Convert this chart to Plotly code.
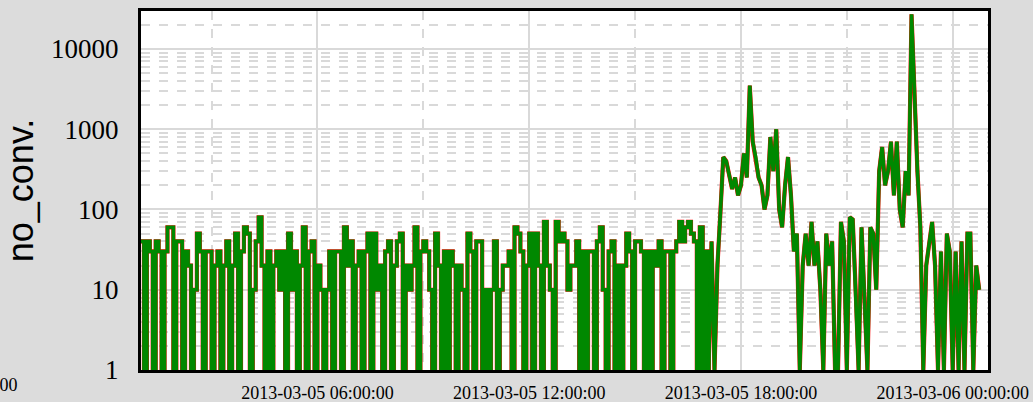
import pandas as pd
import plotly.graph_objects as go

# values (5-minute samples starting 2013-03-05 01:00)
seg1 = [40, 1, 40, 30, 1, 40, 30, 1, 30, 60, 60, 1, 40, 40, 1, 30, 20, 1, 10, 50,
        30, 1, 30, 30, 1, 20, 30, 1, 20, 40, 1, 20, 50, 1, 30, 60, 50, 1, 10, 40,
        80, 20, 1, 30, 1, 20, 30, 10, 30]
seg2 = [1, 50, 10, 30, 1, 20, 60, 1, 30, 40, 1, 20, 10, 1, 10, 30, 1, 30, 30, 1,
        60, 20, 40, 1, 20, 30, 1, 30, 50, 1, 50, 10, 20, 1, 30, 40, 1, 20, 40, 50,
        1, 20, 10, 20, 60, 1, 30, 40]
seg3 = [30, 10, 1, 50, 20, 1, 30, 1, 30, 20, 1, 20, 10, 1, 50, 30, 1, 40, 40, 1,
        10, 1, 10, 40, 1, 10, 20, 20, 30, 1, 60, 50, 30, 1, 20, 50, 1, 50, 20, 1,
        70, 20, 10, 1, 70, 40, 50, 40]
seg4 = [10, 20, 20, 40, 1, 30, 1, 30, 30, 1, 40, 60, 10, 1, 30, 40, 1, 20, 1, 20,
        50, 30, 1, 40, 40, 30, 1, 30, 1, 30, 20, 40, 1, 30, 30, 1, 30, 40, 70, 40,
        60, 70, 50, 40, 1, 60, 1, 30]
seg5 = [1, 40, 1, 20, 90, 450, 400, 250, 180, 250, 150, 200, 500, 250, 3500, 700,
        450, 250, 200, 100, 150, 800, 300, 1000, 100, 60, 200, 450, 150, 30, 50, 1,
        20, 50, 20, 70, 20, 40, 10, 1, 50, 20, 40, 1, 1, 70, 40]
seg6 = [1, 80, 75, 10, 1, 60, 10, 1, 60, 50, 10, 300, 600, 200, 300, 700, 150, 700,
        100, 60, 300, 150, 27000, 2000, 300, 60, 1, 20, 40, 70, 20, 1, 30, 1, 50, 30,
        1, 30, 1, 40, 1, 50, 50, 1, 20, 10]

quiet = seg1 + seg2 + seg3 + seg4          # blocky, step-like part
active = seg5 + seg6                       # smoother burst part
values = quiet + active
times = pd.date_range("2013-03-05 01:00:00", periods=len(values), freq="5min")
n_quiet = len(quiet)

x_range = ["2013-03-05 01:00:00", "2013-03-06 01:00:00"]
x_tickvals = ["2013-03-05 06:00:00", "2013-03-05 12:00:00",
              "2013-03-05 18:00:00", "2013-03-06 00:00:00"]
y_tickvals = [1, 10, 100, 1000, 10000]
y_ticktext = ["1", "10", "100", "1000", "10000"]
y_minor = [d * 10 ** e for e in range(0, 5) for d in range(2, 10)]

fig = go.Figure()
for color, width in (("#ff0000", 4.2), ("#008800", 3.6)):
    fig.add_trace(go.Scatter(x=times[:n_quiet + 1], y=values[:n_quiet + 1],
                             mode="lines", line_shape="hv",
                             line=dict(color=color, width=width)))
    fig.add_trace(go.Scatter(x=times[n_quiet:], y=values[n_quiet:],
                             mode="lines", line_shape="linear",
                             line=dict(color=color, width=width)))

grid = "#d9d9d9"
fig.update_layout(
    width=1033, height=402,
    margin=dict(l=141, r=45, t=11, b=32),
    paper_bgcolor="#dcdcdc", plot_bgcolor="white",
    showlegend=False,
    font=dict(family="Liberation Serif", color="black"),
    xaxis=dict(type="date", range=x_range, tickvals=x_tickvals, automargin=False,
               tickformat="%Y-%m-%d %H:%M:%S",
               tickfont=dict(family="Liberation Serif", size=18),
               ticks="outside", ticklen=4, tickcolor="rgba(0,0,0,0)",
               showgrid=True, gridcolor=grid, gridwidth=2,
               minor=dict(dtick=3 * 3600 * 1000, tick0="2013-03-05 00:00:00",
                          showgrid=True, gridcolor=grid, gridwidth=2, griddash="dash"),
               showline=True, linecolor="black", linewidth=3, mirror=True,
               zeroline=False),
    yaxis=dict(type="log", range=[0, 4.473], tickvals=y_tickvals, ticktext=y_ticktext,
               automargin=False,
               tickfont=dict(family="Liberation Serif", size=27),
               ticks="outside", ticklen=14, tickcolor="rgba(0,0,0,0)",
               showgrid=True, gridcolor=grid, gridwidth=2,
               minor=dict(tickvals=y_minor, showgrid=True, gridcolor=grid,
                          gridwidth=2, griddash="dash"),
               showline=True, linecolor="black", linewidth=3, mirror=True,
               title=dict(text="no_conv.", font=dict(family="Liberation Sans", size=36),
                          standoff=8),
               zeroline=False),
)
fig.add_annotation(text="2013-03-05 00:00:00", xref="paper", yref="paper",
                   x=(20 - 141) / 847, y=0, xanchor="right", yanchor="top",
                   yshift=-3, showarrow=False,
                   font=dict(family="Liberation Serif", size=18, color="black"))

fig.write_html("out.html", config={"displayModeBar": False},
               post_script="document.body.style.margin='0';"
                           "document.body.style.overflow='hidden';")
